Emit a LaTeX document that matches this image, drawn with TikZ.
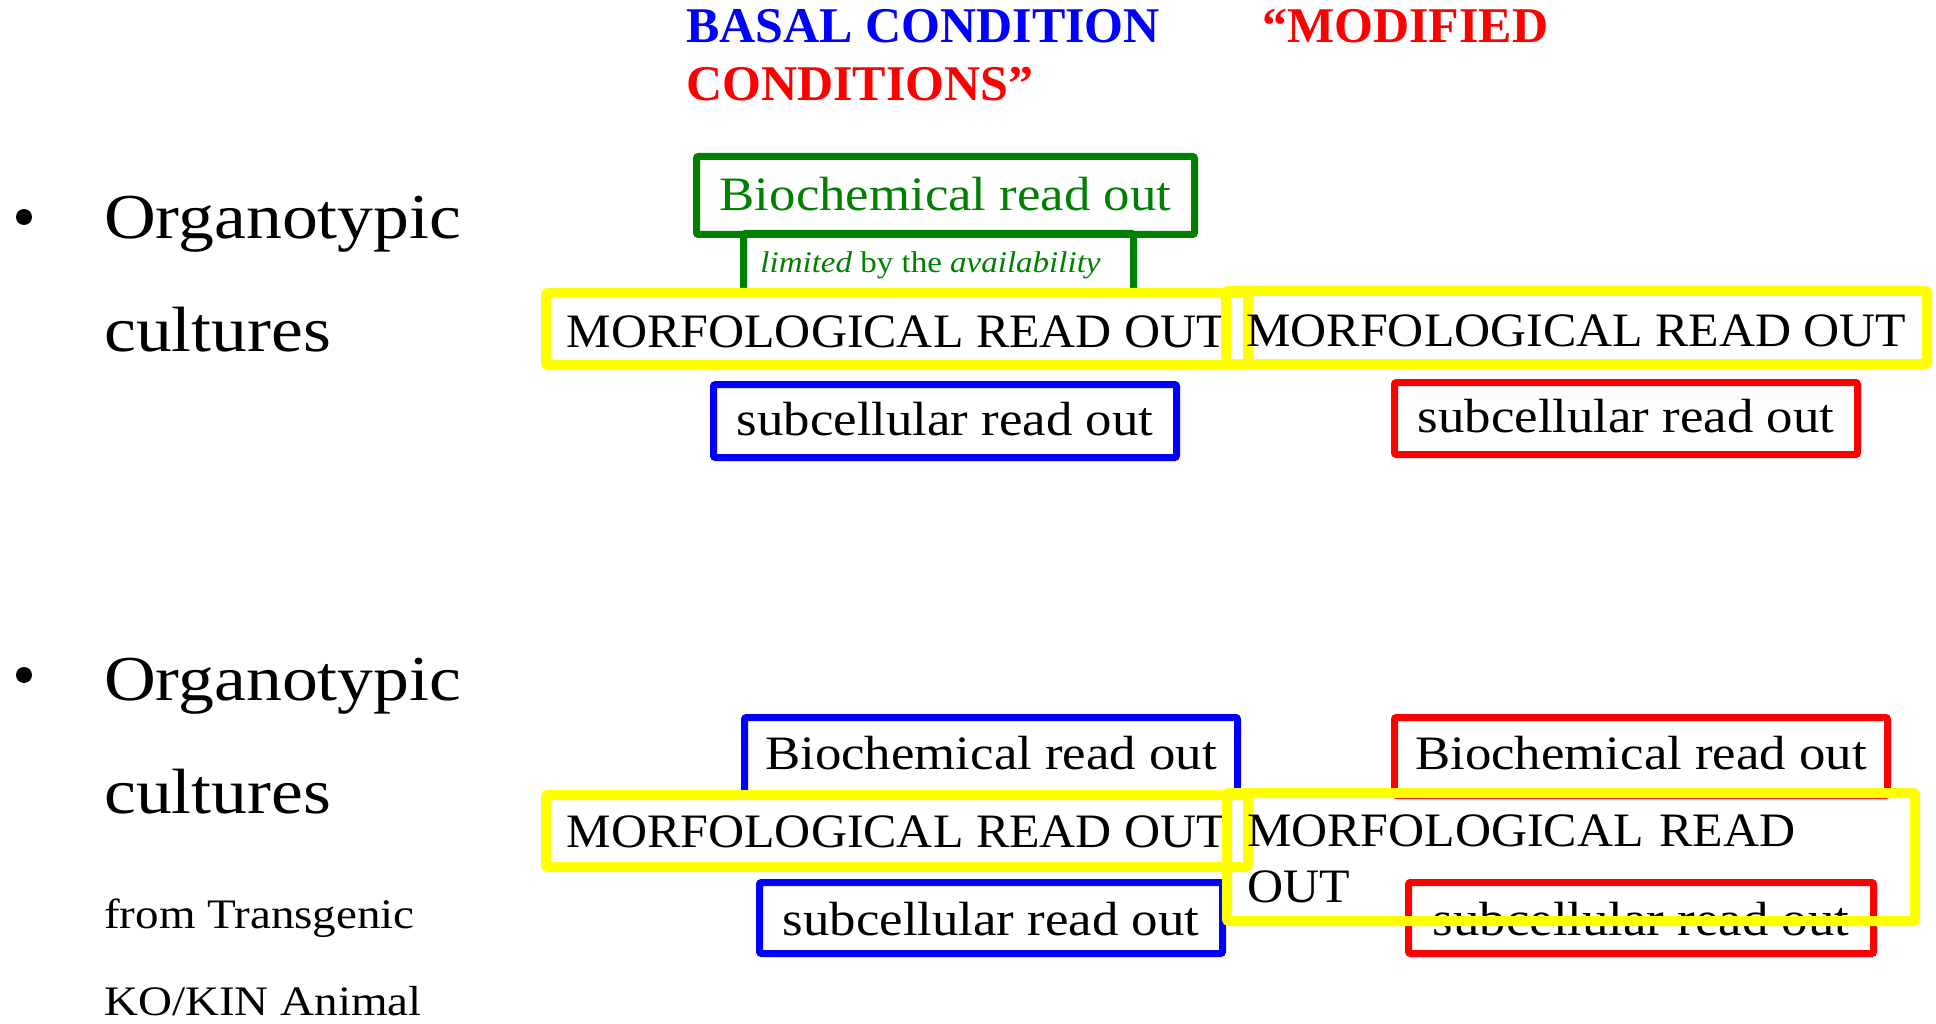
\documentclass[tikz,border=0pt]{standalone}
\usepackage{fontspec}
\setmainfont{Liberation Serif}
\newfontfamily\widefont[FakeStretch=1.1]{Liberation Serif}
\newfontfamily\sidefont[FakeStretch=1.12]{Liberation Serif}
\newfontfamily\capfont[FakeStretch=1.04]{Liberation Serif}
\definecolor{dkgreen}{RGB}{0,128,0}
\definecolor{ylw}{RGB}{255,255,0}
\begin{document}
\begin{tikzpicture}[x=1pt,y=-1pt,
  every node/.style={inner sep=0pt},
  head/.style={anchor=base west, font=\bfseries\fontsize{50}{58}\selectfont},
  side/.style={anchor=base west, font=\sidefont\fontsize{64}{72}\selectfont},
  sidesmall/.style={anchor=base west, font=\sidefont\fontsize{42}{50}\selectfont},
  dot/.style={circle, fill=black, minimum size=16pt},
  rbox/.style={draw=#1, line width=7pt, rounded corners=2pt, text height=40pt},
  lowtxt/.style={font=\widefont\fontsize{48}{56}\selectfont},
  captxt/.style={font=\capfont\fontsize{48}{56}\selectfont},
  ybox/.style={draw=ylw, line width=10pt, rounded corners=2pt, text height=40pt, captxt}
]
\fill[white] (0,0) rectangle (1936,1024);
\useasboundingbox (0,0) rectangle (1936,1024);

% column headings
\node[head, text=blue] (basal) at (686,43) {BASAL CONDITION};
\node[head, text=red] (modA) at (1262,43) {“MODIFIED};
\node[head, text=red] (modB) at (686,101) {CONDITIONS”};

% left-hand bullet list
\node[dot] (dotA) at (24,217) {};
\node[side] (orgA) at (104,239) {Organotypic};
\node[side] (culA) at (104,352) {cultures};
\node[dot] (dotB) at (24,675) {};
\node[side] (orgB) at (104,700) {Organotypic};
\node[side] (culB) at (104,813) {cultures};
\node[sidesmall] (trans) at (104,928) {from Transgenic};
\node[sidesmall] (kokin) at (104,1015) {KO/KIN Animal};

% first row: basal condition read outs
\node[rbox=dkgreen, lowtxt, text=dkgreen, minimum width=498pt, minimum height=78pt, text depth=10pt]
  (bioA) at (945.5,195.5) {Biochemical read out};
\node[rbox=dkgreen, text=dkgreen, font=\widefont\fontsize{30}{36}\selectfont,
  minimum width=390pt, minimum height=60pt, text height=30pt, text depth=12pt]
  (limA) at (938.5,263.5) {\textit{limited} by the \textit{availability}\hspace*{16pt}};
\node[rbox=blue, lowtxt, minimum width=463pt, minimum height=73pt, text depth=12pt]
  (subA) at (945,421) {subcellular read out};
\node[rbox=red, lowtxt, minimum width=463pt, minimum height=72pt, text depth=13pt]
  (subB) at (1626,418.5) {subcellular read out};

% second row: basal and modified read outs
\node[rbox=blue, lowtxt, minimum width=493pt, minimum height=78pt, text depth=15pt]
  (bioB) at (991,756.5) {Biochemical read out};
\node[rbox=red, lowtxt, minimum width=493pt, minimum height=78pt, text depth=15pt]
  (bioC) at (1641,756.5) {Biochemical read out};
\node[rbox=blue, lowtxt, minimum width=463pt, minimum height=71pt, text depth=6pt]
  (subC) at (991,918) {subcellular read out};
\node[rbox=red, lowtxt, minimum width=465pt, minimum height=71pt, text depth=6pt]
  (subD) at (1641,918) {subcellular read out};

% morphological read out frames, drawn on top
\node[ybox, minimum width=702pt, minimum height=72pt, text depth=2pt]
  (morA) at (897,329) {MORFOLOGICAL READ OUT};
\node[ybox, minimum width=701pt, minimum height=73pt, text depth=3pt]
  (morB) at (1576.5,327.5) {MORFOLOGICAL READ OUT};
\node[ybox, minimum width=702pt, minimum height=72pt, text depth=8pt]
  (morC) at (897,831) {MORFOLOGICAL READ OUT};
\node[ybox, minimum width=688pt, minimum height=128pt, inner xsep=20pt,
  text width=648pt, align=left, text height=34pt, text depth=56pt]
  (morD) at (1571,857) {MORFOLOGICAL READ\\OUT};
\end{tikzpicture}
\end{document}
